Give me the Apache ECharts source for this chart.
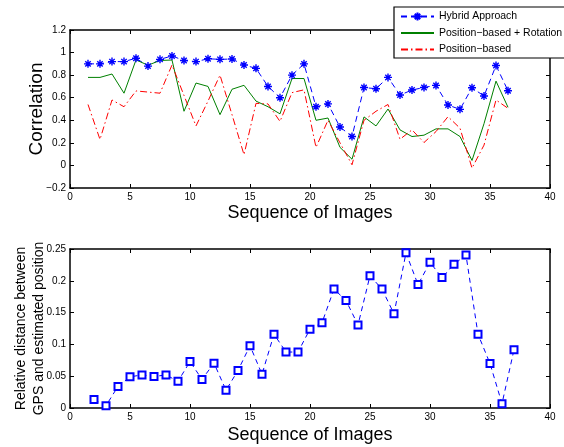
<!DOCTYPE html>
<html>
<head>
<meta charset="utf-8">
<script src="https://cdn.jsdelivr.net/npm/echarts@6/dist/echarts.min.js"></script>
<style>
  html, body { margin: 0; padding: 0; background: #fff; }
  #chart { width: 564px; height: 447px; }
</style>
</head>
<body>
<div id="chart"></div>
<script>
// top panel: correlation per image (sampled between images)
const imageMid = [1.5, 2.5, 3.5, 4.5, 5.5, 6.5, 7.5, 8.5, 9.5, 10.5, 11.5, 12.5,
  13.5, 14.5, 15.5, 16.5, 17.5, 18.5, 19.5, 20.5, 21.5, 22.5, 23.5, 24.5,
  25.5, 26.5, 27.5, 28.5, 29.5, 30.5, 31.5, 32.5, 33.5, 34.5, 35.5, 36.5]
const hybrid = [0.90, 0.90, 0.92, 0.92, 0.95, 0.88, 0.94, 0.97, 0.93, 0.92, 0.945, 0.94,
  0.943, 0.89, 0.86, 0.70, 0.60, 0.80, 0.90, 0.52, 0.545, 0.34, 0.256, 0.69,
  0.68, 0.78, 0.624, 0.668, 0.691, 0.709, 0.535, 0.497, 0.688, 0.615, 0.885, 0.662]
const posRot = [0.78, 0.78, 0.81, 0.64, 0.935, 0.888, 0.93, 0.934, 0.48, 0.73, 0.70, 0.45,
  0.675, 0.71, 0.57, 0.52, 0.457, 0.77, 0.77, 0.40, 0.42, 0.16, 0.055, 0.43,
  0.35, 0.50, 0.315, 0.256, 0.268, 0.324, 0.324, 0.256, 0.044, 0.37, 0.747, 0.515]
const posOnly = [0.54, 0.23, 0.58, 0.52, 0.66, 0.65, 0.64, 0.89, 0.62, 0.35, 0.57, 0.80,
  0.45, 0.095, 0.55, 0.545, 0.39, 0.645, 0.67, 0.16, 0.40, 0.20, 0.006, 0.40,
  0.48, 0.54, 0.232, 0.315, 0.203, 0.30, 0.432, 0.33, -0.024, 0.18, 0.58, 0.506]

// bottom panel: relative distance per image
const imageNo = [2, 3, 4, 5, 6, 7, 8, 9, 10, 11, 12, 13, 14, 15, 16, 17, 18, 19,
  20, 21, 22, 23, 24, 25, 26, 27, 28, 29, 30, 31, 32, 33, 34, 35, 36, 37]
const relDist = [0.0132, 0.0037, 0.034, 0.049, 0.052, 0.0495, 0.052, 0.042, 0.073, 0.045,
  0.0705, 0.028, 0.059, 0.098, 0.053, 0.116, 0.088, 0.088, 0.124, 0.134, 0.187, 0.169,
  0.1305, 0.208, 0.187, 0.148, 0.244, 0.194, 0.229, 0.205, 0.226, 0.2405, 0.116, 0.07,
  0.0068, 0.0916]

const xTicks = ['0', '5', '10', '15', '20', '25', '30', '35', '40']
const corrTicks = ['\u22120.2', '0', '0.2', '0.4', '0.6', '0.8', '1', '1.2']
const distTicks = ['0', '0.05', '0.1', '0.15', '0.2', '0.25']

const font = 'Liberation Sans, Arial, sans-serif'
const star = 'path://M5,0 L5,10 M0,5 L10,5 M1.6,1.6 L8.4,8.4 M1.6,8.4 L8.4,1.6'

function zip(xs, ys) {
  return xs.map((x, i) => [x, ys[i]])
}

function tickFmt(list, min, step) {
  return v => list[Math.round((v - min) / step)] || ''
}

function axis(gridIndex, pos, min, max, step, labels, extra) {
  return Object.assign({
    type: 'value',
    gridIndex: gridIndex,
    position: pos,
    min: min,
    max: max,
    interval: step,
    nameMoveOverlap: false,
    splitLine: { show: false },
    axisLine: { show: true, onZero: false, lineStyle: { color: '#000', width: 1.5 } },
    axisTick: { show: true, inside: true, length: 4, lineStyle: { color: '#000' } },
    axisLabel: labels ? {
      show: true, color: '#000', fontSize: 10, fontFamily: font, margin: 4,
      formatter: tickFmt(labels, min, step)
    } : { show: false }
  }, extra || {})
}

const nameStyle = { color: '#000', fontSize: 18, fontFamily: font }

let chart = echarts.init(document.getElementById('chart'))

let option = {
  animation: false,
  backgroundColor: '#fff',
  grid: [
    { left: 70, top: 30, width: 480, height: 158, outerBoundsMode: 'none' },
    { left: 70, top: 249, width: 480, height: 159, outerBoundsMode: 'none' }
  ],
  xAxis: [
    axis(0, 'bottom', 0, 40, 5, xTicks, {
      name: 'Sequence of Images', nameLocation: 'middle', nameGap: 16, nameTextStyle: nameStyle
    }),
    axis(0, 'top', 0, 40, 5, null),
    axis(1, 'bottom', 0, 40, 5, xTicks, {
      name: 'Sequence of Images', nameLocation: 'middle', nameGap: 18, nameTextStyle: nameStyle
    }),
    axis(1, 'top', 0, 40, 5, null)
  ],
  yAxis: [
    axis(0, 'left', -0.2, 1.2, 0.2, corrTicks, {
      name: 'Correlation', nameLocation: 'middle', nameGap: 24,
      nameTextStyle: { color: '#000', fontSize: 19, fontFamily: font }
    }),
    axis(0, 'right', -0.2, 1.2, 0.2, null),
    axis(1, 'left', 0, 0.25, 0.05, distTicks, {
      name: 'Relative distance between\nGPS and estimated position',
      nameLocation: 'middle', nameGap: 22,
      nameTextStyle: { color: '#000', fontSize: 14, fontFamily: font, lineHeight: 18 }
    }),
    axis(1, 'right', 0, 0.25, 0.05, null)
  ],
  legend: {
    orient: 'vertical',
    left: 394,
    top: 7,
    padding: [4, 6, 3, 6],
    itemWidth: 33,
    itemHeight: 10,
    itemGap: 5.5,
    backgroundColor: '#fff',
    borderColor: '#000',
    borderWidth: 1.2,
    textStyle: { color: '#000', fontSize: 10.5, fontFamily: font },
    data: [
      { name: 'Hybrid Approach' },
      { name: 'Position\u2212based + Rotation', itemStyle: { opacity: 0 } },
      { name: 'Position\u2212based', itemStyle: { opacity: 0 } }
    ]
  },
  series: [
    {
      name: 'Hybrid Approach',
      type: 'line',
      xAxisIndex: 0,
      yAxisIndex: 0,
      data: zip(imageMid, hybrid),
      symbol: star,
      symbolSize: 8,
      itemStyle: { color: '#0000ff', borderColor: '#0000ff', borderWidth: 1.4 },
      lineStyle: { color: '#0000ff', width: 1, type: [6, 4] }
    },
    {
      name: 'Position\u2212based + Rotation',
      type: 'line',
      xAxisIndex: 0,
      yAxisIndex: 0,
      data: zip(imageMid, posRot),
      symbol: 'none',
      itemStyle: { color: '#008000' },
      lineStyle: { color: '#008000', width: 1 }
    },
    {
      name: 'Position\u2212based',
      type: 'line',
      xAxisIndex: 0,
      yAxisIndex: 0,
      data: zip(imageMid, posOnly),
      symbol: 'none',
      itemStyle: { color: '#ff0000' },
      lineStyle: { color: '#ff0000', width: 1, type: [7, 3, 1.5, 3] }
    },
    {
      name: 'distance',
      type: 'line',
      xAxisIndex: 2,
      yAxisIndex: 2,
      data: zip(imageNo, relDist),
      symbol: 'emptyRect',
      symbolSize: 7,
      itemStyle: { color: '#0000ff', borderColor: '#0000ff', borderWidth: 0.8 },
      lineStyle: { color: '#0000ff', width: 1, type: [5, 4] }
    }
  ]
}

chart.setOption(option)
</script>
</body>
</html>
